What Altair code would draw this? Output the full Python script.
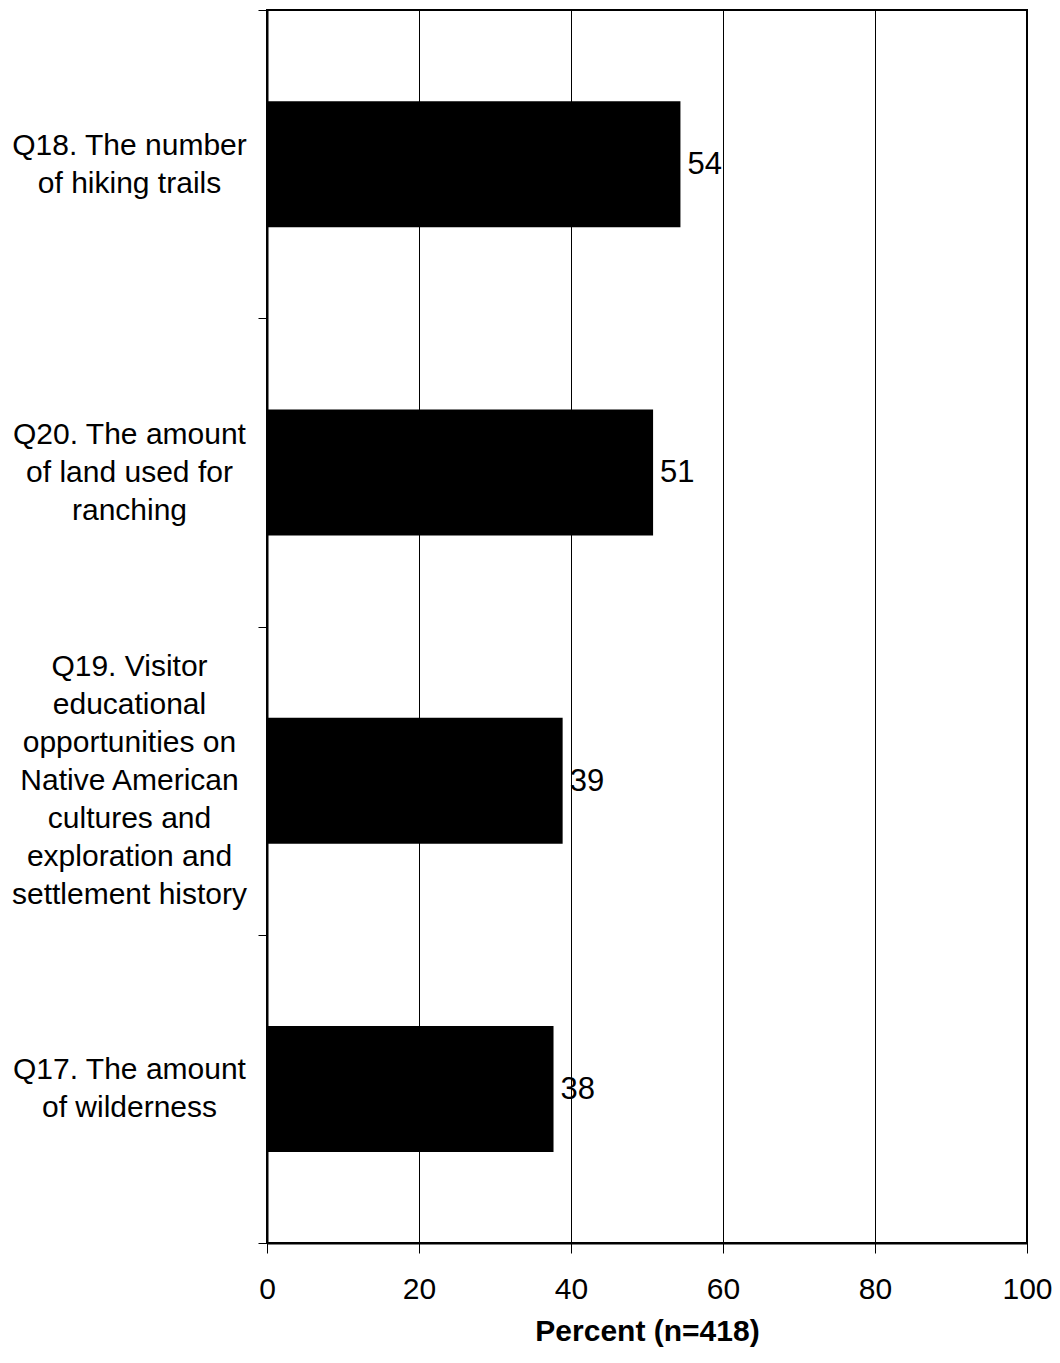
import altair as alt
import pandas as pd

categories = [
    "Q18. The number\nof hiking trails",
    "Q20. The amount\nof land used for\nranching",
    "Q19. Visitor\neducational\nopportunities on\nNative American\ncultures and\nexploration and\nsettlement history",
    "Q17. The amount\nof wilderness",
]
values = [54.4, 50.8, 38.9, 37.7]
x_ticks = [0, 20, 40, 60, 80, 100]

FONT = "Liberation Sans"
LH = 38          # line spacing of the category labels
HALF = LH // 2
SPACER = "\u200b"  # invisible, non-trimmed spacer line
MAX_LINES = max(len(c.split("\n")) for c in categories)


def centred_label(text):
    # interleave spacer lines (half line height each) and prepend spacers so that
    # every multi-line label is vertically centred on its band
    lines = text.split("\n")
    n = len(lines)
    out = [SPACER] * (MAX_LINES - n)
    for i, ln in enumerate(lines):
        if i:
            out.append(SPACER)
        out.append(ln)
    return "\n".join(out)


labels = [centred_label(c) for c in categories]
df = pd.DataFrame({"cat": labels, "val": values})

y_enc = alt.Y(
    "cat:N",
    sort=labels,
    title=None,
    scale=alt.Scale(paddingInner=0, paddingOuter=0),
    axis=alt.Axis(
        labelExpr="split(datum.label, '\\n')",
        labelAlign="center",
        labelBaseline="middle",
        labelPadding=129,
        labelLineHeight=HALF,
        labelOffset=-(MAX_LINES - 1) * HALF,
        labelFont=FONT,
        labelFontSize=30,
        labelColor="black",
        labelLimit=400,
        tickBand="extent",
        tickSize=9,
        tickColor="black",
        tickWidth=1,
        domainColor="black",
        domainWidth=2,
        grid=False,
    ),
)

x_enc = alt.X(
    "val:Q",
    title="Percent (n=418)",
    scale=alt.Scale(domain=[0, 100], nice=False),
    axis=alt.Axis(
        values=x_ticks,
        labelFont=FONT,
        labelFontSize=30,
        labelColor="black",
        labelPadding=21,
        labelFlush=False,
        tickSize=10,
        tickColor="black",
        tickWidth=1,
        domainColor="black",
        domainWidth=2,
        grid=True,
        gridColor="black",
        gridWidth=1,
        titleFont=FONT,
        titleFontSize=30,
        titleFontWeight="bold",
        titleColor="black",
        titlePadding=12,
    ),
)

bars = alt.Chart(df).mark_bar(color="black", size=126).encode(x=x_enc, y=y_enc)

texts = alt.Chart(df).mark_text(
    align="left", baseline="middle", dx=7, dy=1, font=FONT, fontSize=31, color="black"
).encode(
    x=alt.X("val:Q"),
    y=alt.Y("cat:N", sort=labels),
    text=alt.Text("val:Q", format=".0f"),
)

chart = (
    alt.layer(bars, texts)
    .properties(
        width=760,
        height=1233,
        autosize=alt.AutoSizeParams(type="none"),
        padding={"left": 259, "top": 2, "right": 25, "bottom": 107},
        background="white",
    )
    .configure_view(stroke="black", strokeWidth=2)
)

chart.save("out.html", embed_options={"renderer": "svg", "actions": False})
